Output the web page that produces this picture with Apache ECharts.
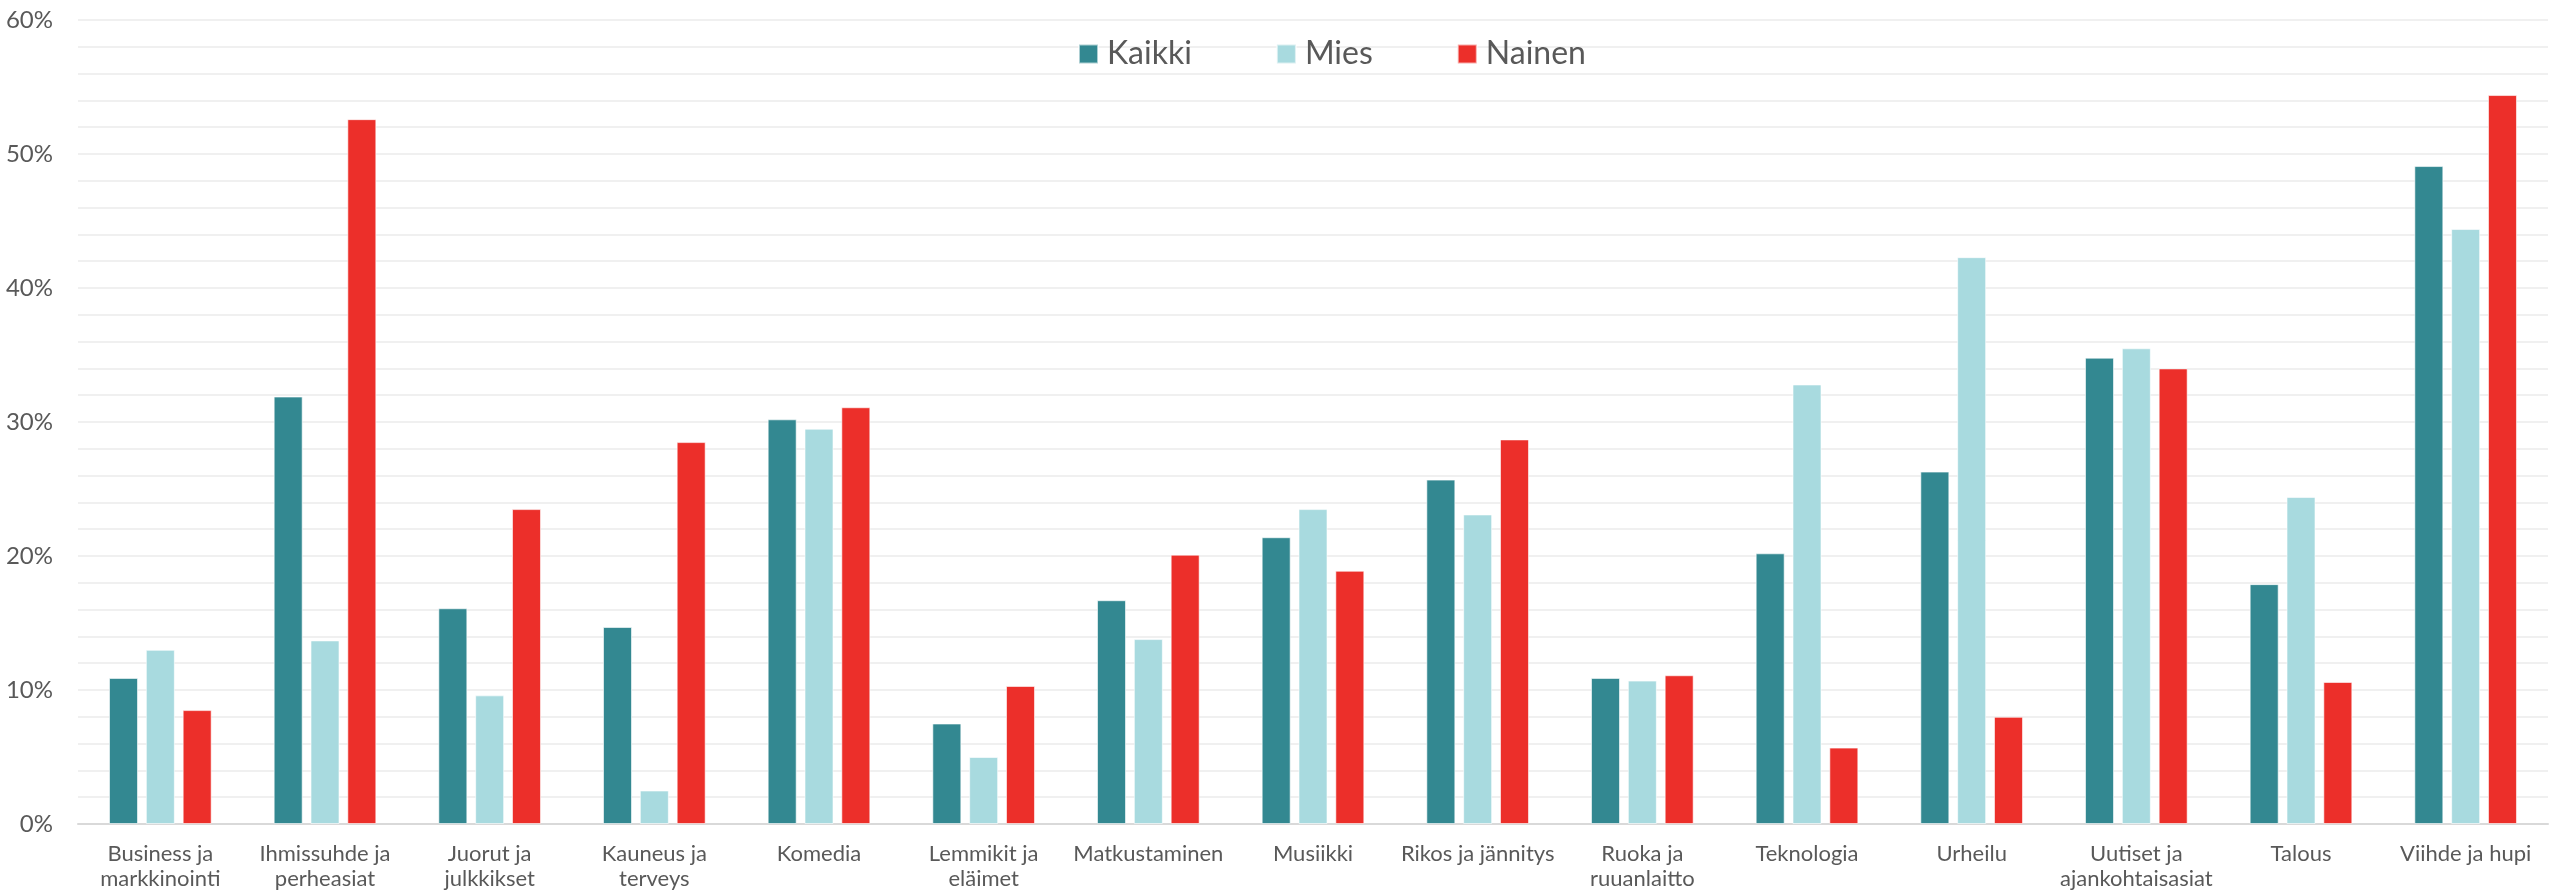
<!DOCTYPE html>
<html>
<head>
<meta charset="utf-8">
<script src="https://cdn.jsdelivr.net/npm/echarts@6/dist/echarts.min.js"></script>
<style>
html,body{margin:0;padding:0;background:#fff;}
#chart{width:2560px;height:891px;}
</style>
</head>
<body>
<div id="chart"></div>
<script>
const categories = ["Business ja markkinointi","Ihmissuhde ja perheasiat","Juorut ja julkkikset","Kauneus ja terveys","Komedia","Lemmikit ja eläimet","Matkustaminen","Musiikki","Rikos ja jännitys","Ruoka ja ruuanlaitto","Teknologia","Urheilu","Uutiset ja ajankohtaisasiat","Talous","Viihde ja hupi"];
const tickLabels = ["Business ja\nmarkkinointi","Ihmissuhde ja\nperheasiat","Juorut ja\njulkkikset","Kauneus ja\nterveys","Komedia","Lemmikit ja\neläimet","Matkustaminen","Musiikki","Rikos ja jännitys","Ruoka ja\nruuanlaitto","Teknologia","Urheilu","Uutiset ja\najankohtaisasiat","Talous","Viihde ja hupi"];
const seriesNames = ["Kaikki","Mies","Nainen"];
const kaikki = [10.9,31.9,16.1,14.7,30.2,7.5,16.7,21.4,25.7,10.9,20.2,26.3,34.8,17.9,49.1];
const mies   = [13.0,13.7,9.6,2.5,29.5,5.0,13.8,23.5,23.1,10.7,32.8,42.3,35.5,24.4,44.4];
const nainen = [8.5,52.6,23.5,28.5,31.1,10.3,20.1,18.9,28.7,11.1,5.7,8.0,34.0,10.6,54.4];
const yTicks = [0,10,20,30,40,50,60];

const colors = ["#338891","#A8DADF","#EC2F2A"];
const font = "Lato, 'Open Sans', sans-serif";
const textColor = "#595959";

const chart = echarts.init(document.getElementById('chart'));
const mk = (name, data, color) => ({
  name, type: 'bar', data, barWidth: 29, barGap: '27%',
  itemStyle: { color, borderColor: 'rgba(255,255,255,0.6)', borderWidth: 1 },
  emphasis: { disabled: true }
});
chart.setOption({
  animation: false,
  color: colors,
  textStyle: { fontFamily: font, color: textColor },
  legend: {
    data: seriesNames,
    left: 1073, top: 33,
    itemWidth: 19, itemHeight: 19, itemGap: 84,
    textStyle: { fontSize: 32, color: textColor, fontFamily: font, padding: [0,0,0,4] },
    icon: 'rect'
  },
  grid: { left: 78, right: 12, top: 20, bottom: 67, containLabel: false },
  xAxis: {
    type: 'category',
    data: categories,
    axisLine: { lineStyle: { color: '#d9d9d9', width: 2 } },
    axisTick: { show: false },
    axisLabel: {
      interval: 0, margin: 17, fontSize: 22, lineHeight: 25, color: textColor, fontFamily: font,
      formatter: (v, i) => tickLabels[i]
    }
  },
  yAxis: {
    type: 'value', min: 0, max: 60, interval: 2,
    axisLine: { show: false }, axisTick: { show: false },
    splitLine: { lineStyle: { color: '#f0f0f0', width: 2 } },
    axisLabel: {
      margin: 25, fontSize: 24, color: textColor, fontFamily: font,
      formatter: v => yTicks.includes(v) ? v + '%' : ''
    }
  },
  series: [mk(seriesNames[0], kaikki, colors[0]), mk(seriesNames[1], mies, colors[1]), mk(seriesNames[2], nainen, colors[2])]
});
</script>
</body>
</html>
